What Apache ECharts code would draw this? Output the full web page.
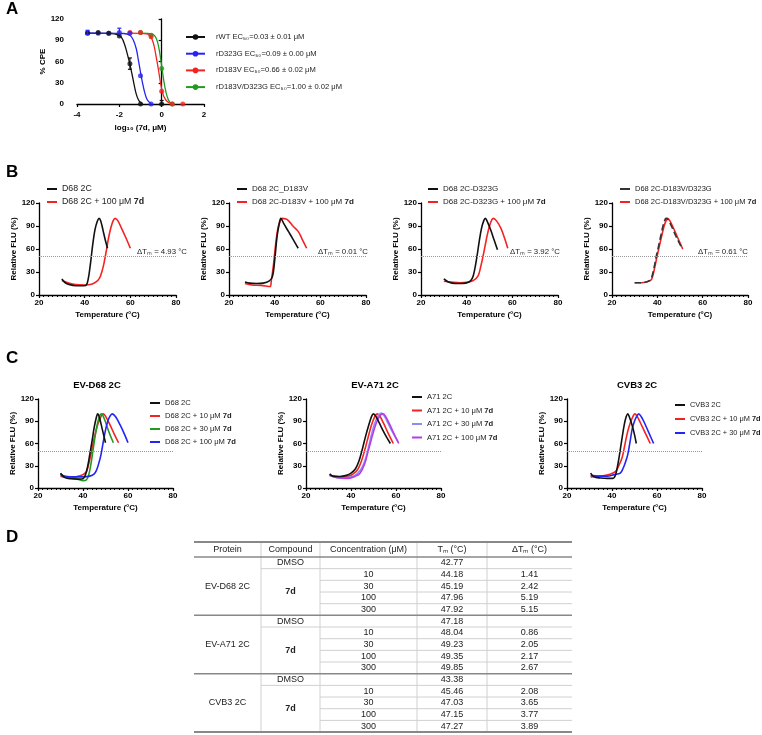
<!DOCTYPE html>
<html>
<head>
<meta charset="utf-8">
<script src="https://cdn.jsdelivr.net/npm/echarts@6/dist/echarts.min.js"></script>
<style>html,body{margin:0;padding:0;background:#fff}#main{width:762px;height:735px}</style>
</head>
<body>
<div id="main"></div>
<script>
// ---- panel A : CPE dose response (x = log10 conc, y = % CPE)
var wtCurve = [[-3.5,100],[-2.4,99.5],[-2.1,98],[-1.9,94],[-1.75,84],[-1.6,68],[-1.5,56],[-1.4,42],[-1.3,27],[-1.2,14],[-1.1,6],[-1.0,2],[-0.9,0]];
var d323Curve = [[-3.5,100],[-1.8,99.5],[-1.5,97],[-1.35,91],[-1.2,78],[-1.1,62],[-1.0,45],[-0.9,29],[-0.8,16],[-0.7,7],[-0.6,3],[-0.5,0.5]];
var d183Curve = [[-1.5,100],[-0.7,99],[-0.55,96],[-0.45,91],[-0.35,81],[-0.25,65],[-0.15,48],[-0.05,29],[0.05,15],[0.15,8],[0.25,4],[0.4,1],[0.5,0]];
var dblCurve = [[-1,100],[-0.45,99],[-0.3,95],[-0.2,88],[-0.1,74],[0,54],[0.1,33],[0.2,17],[0.3,7],[0.4,2],[0.5,0]];
var wtPts = [[-3.5,100],[-3,101],[-2.5,100],[-2,96],[-1.5,57],[-1,0],[0,0]];
var d323Pts = [[-3.5,101],[-3,100],[-2.5,100],[-2,101],[-1.5,100],[-1,40],[-0.5,0]];
var d183Pts = [[-1.5,101],[-1,101],[-0.5,95],[0,18],[0.5,0],[1,0]];
var dblPts = [[-1,101],[-0.5,97],[0,50],[0.5,0]];
var wtErr = [[-1.5,49,65],[0,0,5]];
var d323Err = [[-3.5,98,104],[-2,99,107]];
var aNames = ['rWT EC\u2085\u2080=0.03 \u00b1 0.01 \u03bcM','rD323G EC\u2085\u2080=0.09 \u00b1 0.00 \u03bcM','rD183V EC\u2085\u2080=0.66 \u00b1 0.02 \u03bcM','rD183V/D323G EC\u2085\u2080=1.00 \u00b1 0.02 \u03bcM'];

// ---- panel B : thermal shift, mutants (x = temperature, y = relative FLU)
var b1Ctrl = [[30,21],[32,15],[35,12.5],[38,12],[40.5,12.5],[41.5,20],[42.5,40],[43.5,65],[44.5,85],[45.5,96],[46.3,100],[47,97],[48,85],[49,72],[50,61]];
var b1Drug = [[30,19],[33,15.5],[36,13.5],[40,13],[43,14],[45,17],[46.5,22],[47.5,30],[48.5,42],[49.5,58],[50.5,75],[51.5,88],[52.5,97],[53.3,100],[54.5,97],[56,88],[58,75],[60,61]];
var b2Ctrl = [[27,17],[29,15.5],[32,15],[35,15.5],[37.5,18],[39,24],[40,45],[41,75],[42,93],[42.7,100],[44,93],[46,83],[48,73],[50.3,61]];
var b2Drug = [[27,15],[30,13],[34,12.5],[38,11],[38.5,18],[39.5,40],[40.5,68],[41.5,88],[42.5,97],[43.3,100],[45,99],[46,97],[48,90],[50.3,83],[52,73],[54,61]];
var b3Ctrl = [[30,21],[32,17],[35,15],[38,15],[41,17],[42.5,22],[43.5,33],[44.5,50],[45.5,70],[46.5,87],[47.5,97],[48.2,100],[49,96],[50.5,85],[52,72],[53.5,59]];
var b3Drug = [[30,18],[33,17],[37,16],[41,17],[43,19],[45,25],[46,35],[47,48],[48,63],[49,78],[50,90],[51,98],[51.7,100],[53,97],[55,87],[56.5,75],[58,61]];
var b4Ctrl = [[30,16],[33,16],[36.5,18.5],[37.5,23],[38.5,35],[39.5,50],[40.5,63],[41.5,77],[42.5,90],[43.5,99],[44,100],[45,97],[46.5,88],[48,78],[50,66],[51.2,60]];
var b4Drug = [[30,16],[33,16],[37,19],[38,25],[39,38],[40,52],[41,65],[42,78],[43,90],[44,98],[44.5,100],[45.5,97],[47,88],[48.5,78],[50,68],[51.2,60]];
var bDeltaTm = ['4.93','0.01','3.92','0.61'];

// ---- panel C : thermal shift, dose series
var c1Ctrl = [[30,20],[32,14],[35,12.5],[38,12],[40,12.5],[41,17],[42,28],[43,45],[44,63],[45,82],[46,96],[46.5,100],[47.3,95],[48.5,80],[50,61]];
var c1D10 = [[30,16],[32,14.5],[35,14],[38,16],[40,18],[41.5,22],[42.5,32],[43.5,45],[44.5,60],[46,80],[47.5,93],[49,100],[50,97],[52,85],[54,72],[55.8,61]];
var c1D30 = [[30,19],[32,15],[35,13],[38,11.5],[40,10],[41.5,11],[42.5,17],[43.5,32],[44.5,52],[45.5,72],[46.5,88],[47.5,98],[48.2,100],[49.5,93],[51,80],[52.5,68],[53.5,61]];
var c1D100 = [[30,18],[33,15.5],[36,15],[40,15],[43,16],[45,19],[46,24],[47,33],[48,45],[49,62],[50,78],[51,90],[52,97],[53,100],[54.5,96],[56.5,85],[58.5,72],[60,61]];
var c2Ctrl = [[30.5,19],[32,16],[35,15.5],[38,17],[40,20],[42,26],[43.5,36],[45,52],[46.5,70],[48,86],[49.2,97],[50,100],[51,97],[52.5,88],[55,73],[57.5,60]];
var c2D10 = [[30.5,18],[33,15.5],[36,15],[39,16],[41,19],[43,25],[44.5,35],[46,50],[47.5,67],[49,84],[50.5,96],[51.7,100],[52.8,97],[54.5,87],[56.5,74],[58.8,60]];
var c2D30 = [[30.5,17],[34,14],[38,14],[41,16],[43,20],[45,28],[46.5,40],[48,58],[49.5,77],[51,91],[52.5,99],[53.6,101],[54.8,97],[56.5,87],[58.5,75],[61,62]];
var c2D100 = [[30.5,17],[34,14],[38.7,13],[42,16],[44,20],[46,32],[47.5,48],[49,65],[50.6,82],[52,93],[53.3,99],[54.3,100],[55.5,96],[57.3,85],[59.3,72],[61.2,60]];
var c3Ctrl = [[30.5,20],[32,15],[35,13.5],[38,13],[40.5,13],[41.5,17],[42.5,30],[43.5,48],[44.5,68],[45.5,86],[46.3,96],[47,100],[47.8,95],[49,84],[50,72],[50.8,60]];
var c3D10 = [[30.5,15],[33,15.5],[36,16.5],[39,18.5],[41.5,22],[43,30],[44.4,40],[45.5,55],[46.5,70],[47.5,82],[48.8,93],[50.2,100],[51.3,96],[52.6,88],[54.8,74],[57,60]];
var c3D30 = [[30.5,17],[34,16],[37.8,16],[41,18],[43.7,20],[45,27],[46,35],[47,45],[48,62],[49,80],[50,90],[51,97],[51.9,100],[53,96],[54.1,90],[56.3,75],[58.5,60]];
var cTitles = ['EV-D68 2C','EV-A71 2C','CVB3 2C'];

// ---- panel D : table
var tabProtein = ['EV-D68 2C','EV-A71 2C','CVB3 2C'];
var tabConc = ['','10','30','100','300'];
var tabTm = [[42.77,44.18,45.19,47.96,47.92],[47.18,48.04,49.23,49.35,49.85],[43.38,45.46,47.03,47.15,47.27]];
var tabDTm = [[null,1.41,2.42,5.19,5.15],[null,0.86,2.05,2.17,2.67],[null,2.08,3.65,3.77,3.89]];
var tabHead = ['Protein','Compound','Concentration (\u03bcM)','T\u2098 (\u00b0C)','\u0394T\u2098 (\u00b0C)'];

var FONT = "'Liberation Sans', Arial, sans-serif";
var BLACK = '#111', RED = '#f52222', BLUE = '#2424f5', GREEN = '#229a22', LAV = '#8c8cf5', PURP = '#b53ce6';

var myChart = echarts.init(document.getElementById('main'));

var grids = [
	{left:77, top:19, width:127, height:85},
	{left:39, top:203, width:137, height:92},
	{left:229, top:203, width:137, height:92},
	{left:421, top:203, width:137, height:92},
	{left:612, top:203, width:136, height:92},
	{left:38, top:399, width:135, height:89},
	{left:306, top:399, width:135, height:89},
	{left:567, top:399, width:135, height:89}
];

var axLine = {lineStyle:{color:'#000', width:1.3}};
var axTick = {length:3, lineStyle:{color:'#000', width:1.2}};
var axLabel = {fontSize:8, fontWeight:'bold', color:'#000', margin:4, fontFamily:FONT};
var axName = {fontSize:8, fontWeight:'bold', color:'#000', fontFamily:FONT};

var xAxes = [], yAxes = [];
xAxes.push({gridIndex:0, type:'value', min:-4, max:2, interval:2, offset:3,
	axisLine:axLine, axisTick:axTick, axisLabel:axLabel, splitLine:{show:false},
	name:'log\u2081\u2080 (7d, \u03bcM)', nameLocation:'middle', nameGap:17, nameTextStyle:axName});
yAxes.push({gridIndex:0, type:'value', min:0, max:120, interval:30, offset:9,
	axisLine:{show:true, lineStyle:axLine.lineStyle}, axisTick:{show:true, length:3, lineStyle:axTick.lineStyle},
	axisLabel:axLabel, splitLine:{show:false},
	name:'% CPE', nameLocation:'middle', nameGap:16, nameTextStyle:axName});
for (var g = 1; g < grids.length; g++) {
	xAxes.push({gridIndex:g, type:'value', min:20, max:80, interval:20,
		axisLine:axLine, axisTick:axTick, axisLabel:axLabel, splitLine:{show:false},
		minorTick:{show:true, splitNumber:10, length:2, lineStyle:{color:'#000', width:1}},
		name:'Temperature (\u00b0C)', nameLocation:'middle', nameGap:16, nameTextStyle:axName});
	yAxes.push({gridIndex:g, type:'value', min:0, max:120, interval:30,
		axisLine:{show:true, lineStyle:axLine.lineStyle}, axisTick:{show:true, length:3, lineStyle:axTick.lineStyle},
		axisLabel:axLabel, splitLine:{show:false},
		name:'Relative FLU (%)', nameLocation:'middle', nameGap:13, nameTextStyle:axName});
}

var series = [];

// panel A curves, points, error bars
var aCurves = [wtCurve, d323Curve, d183Curve, dblCurve];
var aPts = [wtPts, d323Pts, d183Pts, dblPts];
var aCols = [BLACK, BLUE, RED, GREEN];
for (var i = 0; i < 4; i++) {
	series.push({name:aNames[i], type:'line', xAxisIndex:0, yAxisIndex:0, data:aCurves[i],
		smooth:0.35, symbol:'circle', symbolSize:5, showSymbol:false,
		color:aCols[i], lineStyle:{width:1.3, color:aCols[i]}, z:2});
}
for (var i = 3; i >= 0; i--) {
	series.push({name:'pts'+i, type:'scatter', xAxisIndex:0, yAxisIndex:0, data:aPts[i],
		symbol:'circle', symbolSize:5, itemStyle:{color:aCols[i]}, z:4});
}
function errSeries(data, col) {
	return {name:'err', type:'custom', xAxisIndex:0, yAxisIndex:0, data:data, z:5,
		encode:{x:0, y:[1,2]},
		renderItem:function(params, api){
			var lo = api.coord([api.value(0), api.value(1)]);
			var hi = api.coord([api.value(0), api.value(2)]);
			var st = {stroke:col, lineWidth:1.2};
			return {type:'group', children:[
				{type:'line', shape:{x1:lo[0], y1:lo[1], x2:hi[0], y2:hi[1]}, style:st},
				{type:'line', shape:{x1:hi[0]-2, y1:hi[1], x2:hi[0]+2, y2:hi[1]}, style:st},
				{type:'line', shape:{x1:lo[0]-2, y1:lo[1], x2:lo[0]+2, y2:lo[1]}, style:st}
			]};
		}};
}
series.push(errSeries(wtErr, BLACK));
series.push(errSeries(d323Err, BLUE));

// panels B and C
var panels = [
	{g:1, tag:'B1', lines:[['D68 2C', b1Ctrl, BLACK], ['D68 2C + 100 \u03bcM 7d', b1Drug, RED]]},
	{g:2, tag:'B2', lines:[['D68 2C_D183V', b2Ctrl, BLACK], ['D68 2C-D183V + 100 \u03bcM 7d', b2Drug, RED]]},
	{g:3, tag:'B3', lines:[['D68 2C-D323G', b3Ctrl, BLACK], ['D68 2C-D323G + 100 \u03bcM 7d', b3Drug, RED]]},
	{g:4, tag:'B4', lines:[['D68 2C-D183V/D323G', b4Ctrl, '#333', 'dashed'], ['D68 2C-D183V/D323G + 100 \u03bcM 7d', b4Drug, RED]]},
	{g:5, tag:'C1', lines:[['D68 2C', c1Ctrl, BLACK], ['D68 2C + 10 \u03bcM 7d', c1D10, RED], ['D68 2C + 30 \u03bcM 7d', c1D30, GREEN], ['D68 2C + 100 \u03bcM 7d', c1D100, BLUE]]},
	{g:6, tag:'C2', lines:[['A71 2C', c2Ctrl, BLACK], ['A71 2C + 10 \u03bcM 7d', c2D10, RED], ['A71 2C + 30 \u03bcM 7d', c2D30, LAV], ['A71 2C + 100 \u03bcM 7d', c2D100, PURP]]},
	{g:7, tag:'C3', lines:[['CVB3 2C', c3Ctrl, BLACK], ['CVB3 2C + 10 \u03bcM 7d', c3D10, RED], ['CVB3 2C + 30 \u03bcM 7d', c3D30, BLUE]]}
];
// left, top, row spacing, font size
var legendPos = {
	B1:[47,184,13,8.8], B2:[237,184,13,8], B3:[428,184,13,8], B4:[620,184,13,7.5],
	C1:[150,398,13,7.6], C2:[412,392,13.5,7.6], C3:[675,400,14,7.4]
};

var legends = [{
	left:185, top:32, orient:'vertical', padding:0, itemWidth:19, itemHeight:7, itemGap:6.7,
	data:aNames, selectedMode:false,
	textStyle:{fontSize:7.6, lineHeight:10, color:'#222', fontFamily:FONT, padding:[0,0,0,6]}
}];

panels.forEach(function(p){
	var names = [];
	p.lines.forEach(function(l, k){
		var nm = p.tag + '#' + l[0];
		names.push(nm);
		var s = {name:nm, type:'line', xAxisIndex:p.g, yAxisIndex:p.g, data:l[1],
			smooth:0.35, symbol:'none', color:l[2],
			lineStyle:{width:1.6, color:l[2], type:l[3] || 'solid'}, z:3 - (k === 0 ? 0 : 1)};
		if (k === 0) {
			s.markLine = {silent:true, symbol:['none','none'], label:{show:false},
				lineStyle:{type:'dotted', color:'#999', width:1}, data:[{yAxis:50}]};
		}
		series.push(s);
	});
	var lp = legendPos[p.tag];
	legends.push({left:lp[0], top:lp[1], orient:'vertical', padding:0, icon:'rect',
		itemWidth:10, itemHeight:2, itemGap:lp[2] - 10, data:names, selectedMode:false,
		formatter:function(n){
			var t = n.substring(n.indexOf('#') + 1);
			return t.replace(/7d$/, '{b|7d}');
		},
		textStyle:{fontSize:lp[3], lineHeight:10, color:'#222', fontFamily:FONT,
			rich:{b:{fontSize:lp[3], fontWeight:'bold', color:'#222', fontFamily:FONT}}}
	});
});

// graphic: panel letters, delta Tm notes, table
var gr = [];
[['A',1],['B',164],['C',350],['D',529]].forEach(function(l){
	gr.push({type:'text', x:6, y:l[1], style:{text:l[0], font:'bold 17px ' + FONT, fill:'#000'}});
});
var dtmX = [137, 318, 510, 698];
bDeltaTm.forEach(function(v, i){
	gr.push({type:'text', x:dtmX[i], y:252, style:{text:'\u0394T\u2098 = ' + v + ' \u00b0C',
		font:'7.8px ' + FONT, fill:'#222', textVerticalAlign:'middle'}});
});

var tabX = [194, 261, 320, 417, 487, 572];
var tabTop = 542, headBot = 557, rowH = 11.67;
var tabBot = headBot + 15 * rowH;
function hline(x1, x2, y, w, c) {
	gr.push({type:'line', shape:{x1:x1, y1:y, x2:x2, y2:y}, style:{stroke:c, lineWidth:w}, z:1});
}
function ttext(t, x, y, bold) {
	gr.push({type:'text', x:x, y:y, z:2, style:{text:t, fill:'#222',
		font:(bold ? 'bold ' : '') + '9px ' + FONT, textAlign:'center', textVerticalAlign:'middle'}});
}
for (var c = 1; c < 5; c++) {
	gr.push({type:'line', shape:{x1:tabX[c], y1:tabTop, x2:tabX[c], y2:tabBot}, style:{stroke:'#d0d0d0', lineWidth:1}, z:1});
}
hline(tabX[0], tabX[5], tabTop, 2, '#888');
hline(tabX[0], tabX[5], headBot, 1.5, '#888');
for (var c = 0; c < 5; c++) ttext(tabHead[c], (tabX[c] + tabX[c+1]) / 2, (tabTop + headBot) / 2, false);
for (var s = 0; s < 3; s++) {
	var y0 = headBot + s * 5 * rowH;
	for (var r = 0; r < 5; r++) {
		var yc = y0 + (r + 0.5) * rowH;
		if (r > 0) hline(r === 1 ? tabX[1] : tabX[2], tabX[5], y0 + r * rowH, 1, '#d0d0d0');
		if (tabConc[r]) ttext(tabConc[r], (tabX[2] + tabX[3]) / 2, yc, false);
		ttext(tabTm[s][r].toFixed(2), (tabX[3] + tabX[4]) / 2, yc, false);
		if (tabDTm[s][r] != null) ttext(tabDTm[s][r].toFixed(2), (tabX[4] + tabX[5]) / 2, yc, false);
	}
	ttext(tabProtein[s], (tabX[0] + tabX[1]) / 2, y0 + 2.5 * rowH, false);
	ttext('DMSO', (tabX[1] + tabX[2]) / 2, y0 + 0.5 * rowH, false);
	ttext('7d', (tabX[1] + tabX[2]) / 2, y0 + 3 * rowH, true);
	hline(tabX[0], tabX[5], y0 + 5 * rowH, s === 2 ? 2 : 1.5, '#888');
}

var titles = [];
var titleX = [97, 375, 637];
cTitles.forEach(function(t, i){
	titles.push({text:t, left:titleX[i], top:379, textAlign:'center', padding:[1,0,0,0],
		textStyle:{fontSize:9.5, fontWeight:'bold', color:'#000', fontFamily:FONT}});
});

var option = {
	animation:false,
	backgroundColor:'#fff',
	title:titles,
	grid:grids,
	xAxis:xAxes,
	yAxis:yAxes,
	legend:legends,
	series:series,
	graphic:gr
};
myChart.setOption(option);
</script>
</body>
</html>
